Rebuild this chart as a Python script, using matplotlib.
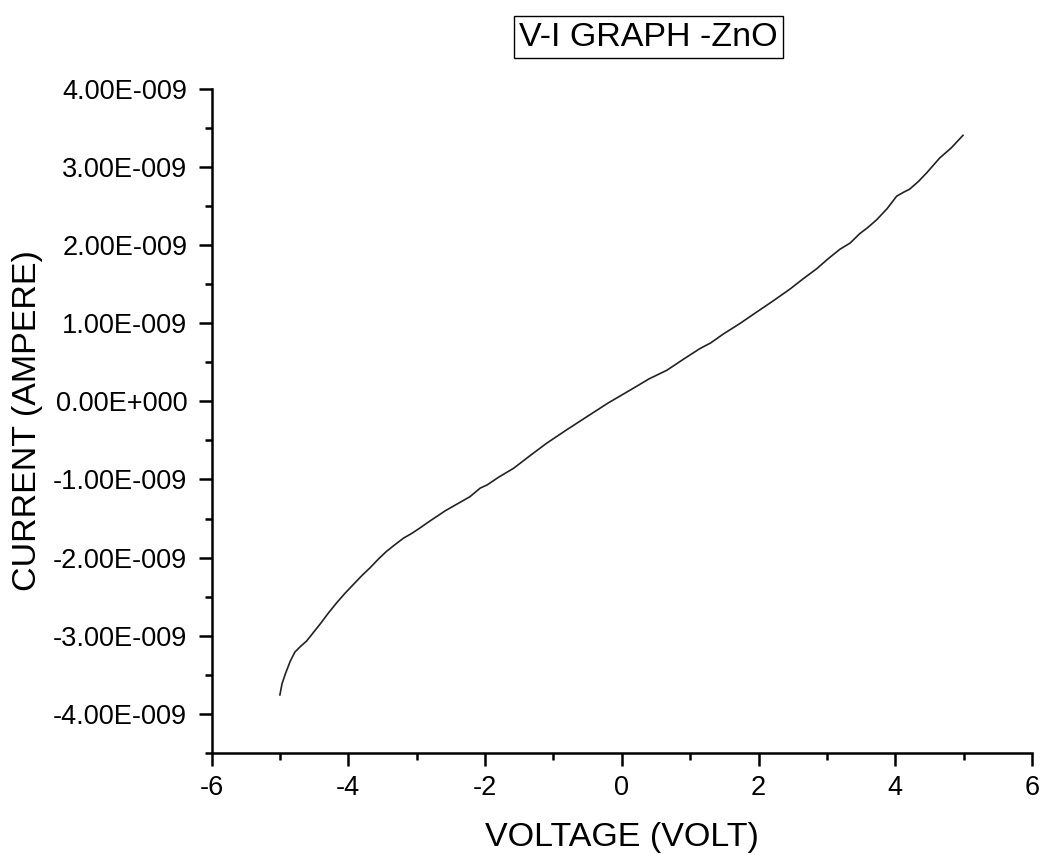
import matplotlib
matplotlib.use("Agg")
import matplotlib.pyplot as plt
from matplotlib.ticker import FuncFormatter, MultipleLocator

# Data (voltage in V, current in nA)
voltage = [-5.00, -4.97, -4.92, -4.85, -4.78, -4.70, -4.61, -4.51, -4.41, -4.29, -4.17,
           -4.05, -3.92, -3.80, -3.68, -3.56, -3.44, -3.31, -3.19, -3.07, -2.95, -2.82,
           -2.70, -2.58, -2.46, -2.34, -2.22, -2.07, -1.97, -1.80, -1.58, -1.35, -1.10,
           -0.80, -0.51, -0.20, 0.12, 0.40, 0.66, 0.90, 1.14, 1.30, 1.49, 1.73, 1.97,
           2.20, 2.46, 2.65, 2.85, 3.02, 3.19, 3.34, 3.48, 3.60, 3.73, 3.88, 4.02,
           4.12, 4.21, 4.34, 4.46, 4.55, 4.65, 4.82, 4.99]
current_nA = [-3.76, -3.62, -3.49, -3.33, -3.21, -3.14, -3.07, -2.96, -2.85, -2.71, -2.58,
              -2.46, -2.34, -2.23, -2.13, -2.02, -1.92, -1.83, -1.75, -1.69, -1.62, -1.54,
              -1.47, -1.40, -1.34, -1.28, -1.22, -1.11, -1.07, -0.97, -0.855, -0.70, -0.536,
              -0.36, -0.195, -0.02, 0.144, 0.29, 0.40, 0.54, 0.676, 0.75, 0.867, 1.00, 1.144,
              1.28, 1.44, 1.57, 1.70, 1.83, 1.95, 2.03, 2.15, 2.23, 2.33, 2.47, 2.63,
              2.68, 2.72, 2.82, 2.93, 3.02, 3.12, 3.25, 3.41]
current = [c * 1e-9 for c in current_nA]

x_ticks = [-6, -4, -2, 0, 2, 4, 6]
y_ticks = [-4e-9, -3e-9, -2e-9, -1e-9, 0.0, 1e-9, 2e-9, 3e-9, 4e-9]

plt.rcParams['font.family'] = ['Liberation Sans', 'DejaVu Sans']

fig = plt.figure(figsize=(10.41, 8.55), dpi=100)
ax = fig.add_axes([0.2032, 0.1197, 0.9914 - 0.2032, 0.8956 - 0.1197])

ax.plot(voltage, current, color='#222222', lw=1.2)

ax.set_xlim(-6, 6)
ax.set_ylim(-4.5e-9, 4.0e-9)
ax.set_xticks(x_ticks)
ax.set_yticks(y_ticks)
ax.xaxis.set_minor_locator(MultipleLocator(1))
ax.yaxis.set_minor_locator(MultipleLocator(0.5e-9))


def fmt(v, pos):
    if abs(v) < 1e-20:
        v = 0.0
    s = f"{v:.2E}"
    mant, exp = s.split("E")
    sign = exp[0]
    digits = exp[1:].zfill(3)
    return f"{mant}E{sign}{digits}"


ax.yaxis.set_major_formatter(FuncFormatter(fmt))
ax.xaxis.set_major_formatter(FuncFormatter(lambda v, p: f"{int(round(v))}"))

for side in ['top', 'right']:
    ax.spines[side].set_visible(False)
for side in ['left', 'bottom']:
    ax.spines[side].set_linewidth(1.8)

ax.tick_params(axis='both', which='major', direction='out', length=9.5, width=1.8,
               labelsize=19.5, pad=8)
ax.tick_params(axis='both', which='minor', direction='out', length=5, width=1.8)
ax.tick_params(axis='x', which='major', pad=6.5)

ax.set_xlabel("VOLTAGE (VOLT)", fontsize=24.5, labelpad=15.5)
ax.set_ylabel("CURRENT (AMPERE)", fontsize=24.5, labelpad=7)

fig.text(0.623, 0.9567, "V-I GRAPH -ZnO", fontsize=24.5, ha='center', va='center',
         bbox=dict(boxstyle='square,pad=0.15', facecolor='white', edgecolor='black', lw=1.0))

fig.savefig("out.png", dpi=100)
